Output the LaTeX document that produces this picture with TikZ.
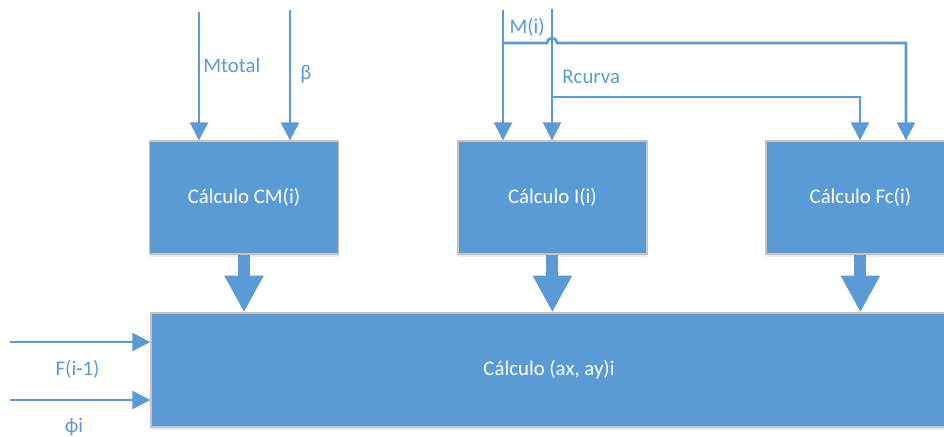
\documentclass[tikz,border=0pt]{standalone}
\usepackage{fontspec}
\setmainfont{Carlito}
\usetikzlibrary{arrows.meta,shadows}

\definecolor{officeblue}{RGB}{91,155,213}
\definecolor{boxedge}{RGB}{196,196,196}

\begin{document}
\begin{tikzpicture}[
  font=\fontsize{14.8pt}{17pt}\selectfont,
  stage/.style={rectangle, fill=officeblue, draw=boxedge, line width=0.9pt,
    text=white, minimum width=4.725cm, minimum height=2.825cm,
    drop shadow={fill=black, opacity=0.08, shadow xshift=0pt, shadow yshift=-0.07cm}},
  feed/.style={draw=officeblue, line width=1.8pt,
    -{Triangle[width=0.45cm,length=0.45cm]}},
  pass/.style={draw=officeblue, line width=0.3cm,
    -{Triangle[width=0.92cm,length=0.92cm]}},
  tag/.style={text=officeblue, inner sep=0pt}]
  \useasboundingbox (0,0) rectangle (23.6,10.9);
  \clip (0,0) rectangle (23.6,10.9);

  % the four calculation blocks
  \node[stage] (cm) at (6.1,5.9625) {Cálculo CM(i)};
  \node[stage] (in) at (13.81,5.9625) {Cálculo I(i)};
  \node[stage] (fc) at (21.51,5.9625) {Cálculo Fc(i)};
  \node[stage, minimum width=19.9cm, minimum height=2.85cm] (ax) at (13.725,1.65) {Cálculo (ax, ay)i};

  % results passed down
  \draw[pass] (cm.south) -- (cm.south |- ax.north);
  \draw[pass] (in.south) -- (in.south |- ax.north);
  \draw[pass] (fc.south) -- (fc.south |- ax.north);

  % inputs
  \coordinate (mtotin) at (4.975,10.6);
  \coordinate (betain) at (7.25,10.65);
  \coordinate (miin) at (12.575,10.65);
  \coordinate (rcin) at (13.8,10.675);
  \coordinate (fin) at (0.25,2.35);
  \coordinate (phin) at (0.25,0.9);

  \draw[feed] (mtotin) -- (mtotin |- cm.north);
  \draw[feed] (betain) -- (betain |- cm.north);
  \draw[feed] (miin) -- (miin |- in.north);
  \draw[feed] (rcin) -- (rcin |- in.north);
  \draw[feed] (fin) -- (fin -| ax.west);
  \draw[feed] (phin) -- (phin -| ax.west);

  % M(i) and Rcurva also feed Fc(i)
  \coordinate (misplit) at (12.575,9.825);
  \coordinate (hop) at (13.675,9.825);
  \coordinate (mdrop) at (22.65,9.825);
  \draw[feed] (misplit) -- (hop) arc[start angle=180, end angle=0, radius=0.125]
    -- (mdrop) -- (mdrop |- fc.north);
  \coordinate (rcsplit) at (13.8,8.475);
  \coordinate (rdrop) at (21.5,8.475);
  \draw[feed] (rcsplit) -- (rdrop) -- (rdrop |- fc.north);

  % signal names
  \node[tag, anchor=west] (mtotal) at (5.075,9.275) {Mtotal};
  \node[tag, anchor=west] (beta) at (7.5,9.05) {β};
  \node[tag] (mi) at (13.18,10.225) {M(i)};
  \node[tag] (rcurva) at (14.78,8.975) {Rcurva};
  \node[tag] (fprev) at (1.94,1.675) {F(i-1)};
  \node[tag] (phi) at (1.85,0.225) {ϕi};

\end{tikzpicture}
\end{document}
